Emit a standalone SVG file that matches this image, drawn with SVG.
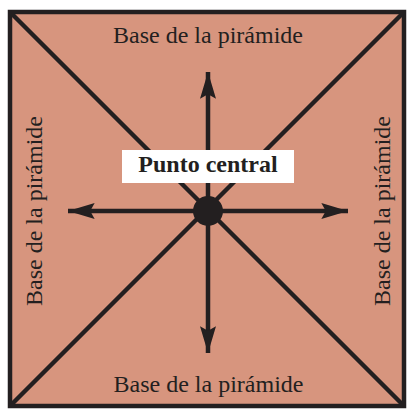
<svg xmlns="http://www.w3.org/2000/svg" width="407" height="410" viewBox="0 0 407 410">
<style>
.ln{stroke:#231F20;stroke-width:4.5;fill:none}
.sq{stroke:#231F20;stroke-width:4.5;fill:#D7957E}
.lbl{font-family:"Liberation Serif",serif;font-size:24px;fill:#231F20;text-anchor:middle}
.bold{font-weight:bold}
</style>
<defs>
<marker id="ah" markerUnits="userSpaceOnUse" markerWidth="30" markerHeight="20" viewBox="-25 -8 27 16" refX="0" refY="0" orient="auto">
<path d="M0,0 L-24,-7.2 L-20,0 L-24,7.2 Z" fill="#231F20"/>
</marker>
</defs>
<rect width="407" height="410" fill="#ffffff"/>
<g id="base">
<rect x="10" y="12" width="394" height="394" class="sq"/>
</g>
<g id="connectors">
<line class="ln" x1="10" y1="12" x2="404" y2="406"/>
<line class="ln" x1="404" y1="12" x2="10" y2="406"/>
<line class="ln" x1="208" y1="211" x2="208" y2="72" marker-end="url(#ah)"/>
<line class="ln" x1="208" y1="211" x2="208" y2="353" marker-end="url(#ah)"/>
<line class="ln" x1="208" y1="211" x2="68" y2="211" marker-end="url(#ah)"/>
<line class="ln" x1="208" y1="211" x2="348" y2="211" marker-end="url(#ah)"/>
</g>
<g id="center">
<circle cx="208" cy="211" r="15" fill="#231F20"/>
</g>
<g id="label-central">
<rect x="122" y="150" width="172" height="33" fill="#ffffff"/>
<text class="lbl bold" x="208" y="171.5">Punto central</text>
</g>
<g id="label-top"><text class="lbl" x="208" y="43">Base de la pirámide</text></g>
<g id="label-bottom"><text class="lbl" x="208.5" y="392">Base de la pirámide</text></g>
<g id="label-left"><text class="lbl" transform="translate(42 211) rotate(-90)">Base de la pirámide</text></g>
<g id="label-right"><text class="lbl" transform="translate(390 211) rotate(-90)">Base de la pirámide</text></g>
</svg>
